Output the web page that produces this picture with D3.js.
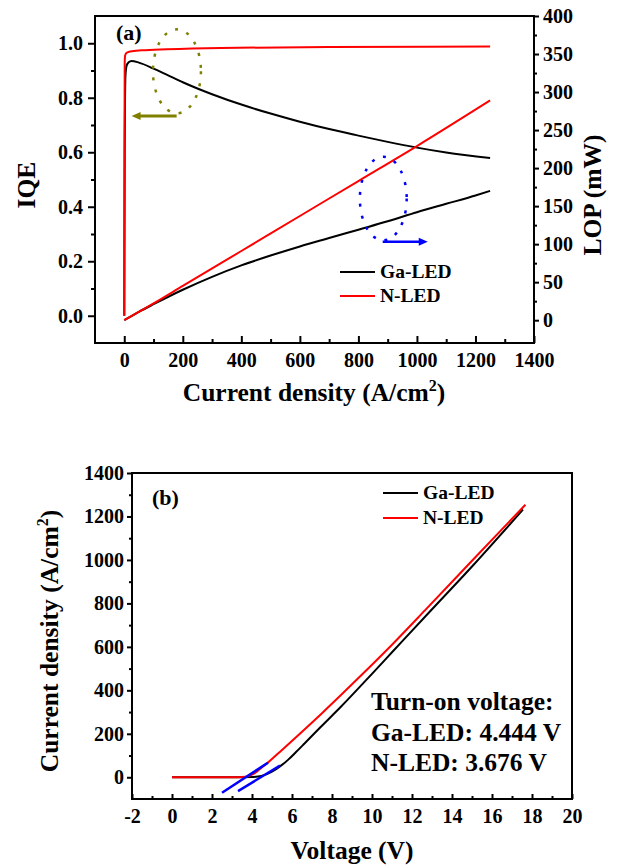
<!DOCTYPE html>
<html>
<head>
<meta charset="utf-8">
<script src="https://cdn.jsdelivr.net/npm/d3@7"></script>
<style>
body { margin:0; background:#fff; }
svg { display:block; font-family:'Liberation Serif','Times New Roman',serif; font-weight:bold; }
</style>
</head>
<body>
<svg id="chart" width="618" height="867"></svg>
<script>
// panel (a): IQE (left axis) and LOP (right axis) vs current density
var gaIqe = [[0,0],[1.5,0.6],[4,0.88],[8,0.918],[15,0.93],[25,0.935],[50,0.929],[100,0.907],[150,0.882],[200,0.857],[250,0.834],[300,0.813],[400,0.775],[500,0.742],[600,0.712],[700,0.685],[800,0.661],[900,0.638],[1000,0.617],[1100,0.599],[1250,0.579]];
var nIqe = [[0,0],[0.5,0.5],[1.5,0.93],[3,0.955],[8,0.965],[20,0.97],[60,0.974],[145,0.978],[330,0.983],[700,0.986],[1250,0.988]];
var gaLop = [[0,0],[50,11],[100,21],[200,40],[300,57],[400,72],[500,85],[600,97],[700,108],[800,119],[900,130],[1000,142],[1100,153],[1200,164],[1250,170]];
var nLop = [[0,0],[100,22],[200,45],[400,91],[600,137],[800,183],[1000,229],[1250,289]];

// panel (b): current density vs voltage
var gaIV = [[0,0],[3,0],[4,1],[4.3,4],[4.6,10],[5,26],[5.4,50],[5.8,80],[6.2,116],[6.6,153],[7.42,230],[8.42,322],[10,476],[11,575],[12.92,765],[15,970],[17.55,1232]];
var nIV = [[0,0],[3,0],[3.5,1],[3.8,5],[4.1,17],[4.4,38],[4.75,64],[5.5,126],[6.42,203],[7.5,295],[8.5,383],[10,518],[11,610],[12.67,770],[15,996],[17.67,1254]];
var gaTangent = [[3.3,-64],[5.4,54]];
var nTangent = [[2.5,-71],[4.8,67]];

var seriesNames = ['Ga-LED','N-LED'];
var seriesColours = ['#000000','#ff0000'];
var turnOn = ['Turn-on voltage:','Ga-LED: 4.444 V','N-LED: 3.676 V'];

var xTicksA = [0,200,400,600,800,1000,1200,1400];
var iqeTicks = [0,0.2,0.4,0.6,0.8,1.0];
var lopTicks = [0,50,100,150,200,250,300,350,400];
var xTicksB = [-2,0,2,4,6,8,10,12,14,16,18,20];
var jTicksB = [0,200,400,600,800,1000,1200,1400];

// annotations, in data units
var olive = {cx:180, cy:0.897, rx:82, ry:0.154, from:179, to:25, at:0.733};
var blue = {cx:885, cy:160, rx:80, ry:55, from:883, to:1037, at:103};

var svg = d3.select('#chart');

function range(a, b, step)
{
	var out = [];
	for (var v = a; v <= b + 1e-9; v += step) out.push(+v.toFixed(3));
	return out;
}

function drawAxis(g, axis, size, minors, minorSize, padding, fmt, ticks)
{
	g.call(axis.tickValues(minors).tickSize(minorSize).tickFormat(''));
	g.selectAll('.domain').remove();
	var g2 = g.append('g');
	g2.call(axis.tickValues(ticks).tickSize(size).tickPadding(padding).tickFormat(fmt));
	g2.selectAll('.domain').remove();
	g.attr('font-family',null).attr('font-size',null);
	g2.attr('font-family',null).attr('font-size',null);
	g.selectAll('line').attr('stroke','#000').attr('stroke-width',2);
	g.selectAll('text').attr('font-size',20).attr('fill','#000');
}

function arrow(x1, x2, y, col, width)
{
	var dir = x2 > x1 ? 1 : -1;
	svg.append('line').attr('x1',x1).attr('x2',x2 - dir*6).attr('y1',y).attr('y2',y)
		.attr('stroke',col).attr('stroke-width',width);
	svg.append('path').attr('d','M' + x2 + ',' + y + 'L' + (x2 - dir*9) + ',' + (y-4) + 'L' + (x2 - dir*9) + ',' + (y+4) + 'Z')
		.attr('fill',col);
}

function legend(x, y, gap)
{
	for (var i = 0; i < seriesNames.length; i++)
	{
		svg.append('line').attr('x1',x).attr('x2',x+35).attr('y1',y + i*gap).attr('y2',y + i*gap)
			.attr('stroke',seriesColours[i]).attr('stroke-width',2);
		svg.append('text').attr('x',x+40).attr('y',y + i*gap + 6).attr('font-size',19.5).text(seriesNames[i]);
	}
}

// ---------- panel (a)
var xA = d3.scaleLinear().domain([-100,1400]).range([95,534]);
var yIqe = d3.scaleLinear().domain([-0.1,1.1]).range([343,16]);
var yLop = d3.scaleLinear().domain([-30,400]).range([343,16]);

drawAxis(svg.append('g').attr('transform','translate(0,343)'), d3.axisBottom(xA), -7, range(100,1300,200), -4, 10, d => d, xTicksA);
drawAxis(svg.append('g').attr('transform','translate(95,0)'), d3.axisLeft(yIqe), 7, range(0.1,0.9,0.2), 4, 5, d3.format('.1f'), iqeTicks);
drawAxis(svg.append('g').attr('transform','translate(534,0)'), d3.axisRight(yLop), 5, range(25,375,50), 3, 4, d => d, lopTicks);

var lineIqe = d3.line().x(d => xA(d[0])).y(d => yIqe(d[1])).curve(d3.curveMonotoneX);
var lineLop = d3.line().x(d => xA(d[0])).y(d => yLop(d[1])).curve(d3.curveMonotoneX);

[[gaIqe,lineIqe,0],[gaLop,lineLop,0],[nIqe,lineIqe,1],[nLop,lineLop,1]].forEach(function(s)
{
	svg.append('path').attr('d',s[1](s[0])).attr('fill','none')
		.attr('stroke',seriesColours[s[2]]).attr('stroke-width',2);
});

svg.append('rect').attr('x',95).attr('y',16).attr('width',439).attr('height',327)
	.attr('fill','none').attr('stroke','#000').attr('stroke-width',2);

svg.append('ellipse').attr('cx',xA(olive.cx)).attr('cy',yIqe(olive.cy))
	.attr('rx',xA(olive.cx+olive.rx)-xA(olive.cx)).attr('ry',yIqe(olive.cy)-yIqe(olive.cy+olive.ry))
	.attr('fill','none').attr('stroke','#808000').attr('stroke-width',2.5).attr('stroke-dasharray','3,9');
arrow(xA(olive.from), xA(olive.to), yIqe(olive.at), '#808000', 3);

svg.append('ellipse').attr('cx',xA(blue.cx)).attr('cy',yLop(blue.cy))
	.attr('rx',xA(blue.cx+blue.rx)-xA(blue.cx)).attr('ry',yLop(blue.cy)-yLop(blue.cy+blue.ry))
	.attr('fill','none').attr('stroke','#0000ff').attr('stroke-width',2.5).attr('stroke-dasharray','3,9');
arrow(xA(blue.from), xA(blue.to), yLop(blue.at), '#0000ff', 2.5);

legend(340, 272, 24);

svg.append('text').attr('x',116).attr('y',40).attr('font-size',22).text('(a)');
svg.append('text').attr('transform','translate(35,185) rotate(-90)').attr('text-anchor','middle')
	.attr('font-size',25.5).text('IQE');
svg.append('text').attr('transform','translate(601,195) rotate(-90)').attr('text-anchor','middle')
	.attr('font-size',25.5).text('LOP (mW)');
var tA = svg.append('text').attr('x',314).attr('y',401).attr('text-anchor','middle').attr('font-size',25.5);
tA.append('tspan').text('Current density (A/cm');
tA.append('tspan').attr('dy',-10).attr('font-size',16).text('2');
tA.append('tspan').attr('dy',10).text(')');

// ---------- panel (b)
var xB = d3.scaleLinear().domain([-2,20]).range([132,572]);
var yB = d3.scaleLinear().domain([-100,1400]).range([799,473]);

drawAxis(svg.append('g').attr('transform','translate(0,799)'), d3.axisBottom(xB), -5, range(-1,19,2), -3, 10, d => String(d), xTicksB);
drawAxis(svg.append('g').attr('transform','translate(132,0)'), d3.axisLeft(yB), 5, range(100,1300,200), 3, 3, d => d, jTicksB);

var lineB = d3.line().x(d => xB(d[0])).y(d => yB(d[1])).curve(d3.curveMonotoneX);
svg.append('path').attr('d',lineB(gaIV)).attr('fill','none').attr('stroke',seriesColours[0]).attr('stroke-width',2);
svg.append('path').attr('d',lineB(nIV)).attr('fill','none').attr('stroke',seriesColours[1]).attr('stroke-width',2);
[gaTangent,nTangent].forEach(function(t)
{
	svg.append('path').attr('d',d3.line().x(d => xB(d[0])).y(d => yB(d[1]))(t))
		.attr('fill','none').attr('stroke','#0000ff').attr('stroke-width',2.5);
});

svg.append('rect').attr('x',132).attr('y',473).attr('width',440).attr('height',326)
	.attr('fill','none').attr('stroke','#000').attr('stroke-width',2);

legend(383, 493, 25);

svg.append('text').attr('x',152).attr('y',505).attr('font-size',22).text('(b)');
svg.selectAll('.turnon').data(turnOn).enter().append('text').attr('class','turnon')
	.attr('x',371).attr('y',(d,i) => 710 + i*30.5).attr('font-size',25.5).text(d => d);

var tB = svg.append('text').attr('transform','translate(58,641) rotate(-90)').attr('text-anchor','middle').attr('font-size',25.5);
tB.append('tspan').text('Current density (A/cm');
tB.append('tspan').attr('dy',-10).attr('font-size',16).text('2');
tB.append('tspan').attr('dy',10).text(')');
svg.append('text').attr('x',352).attr('y',859).attr('text-anchor','middle').attr('font-size',25.5).text('Voltage (V)');
</script>
</body>
</html>
